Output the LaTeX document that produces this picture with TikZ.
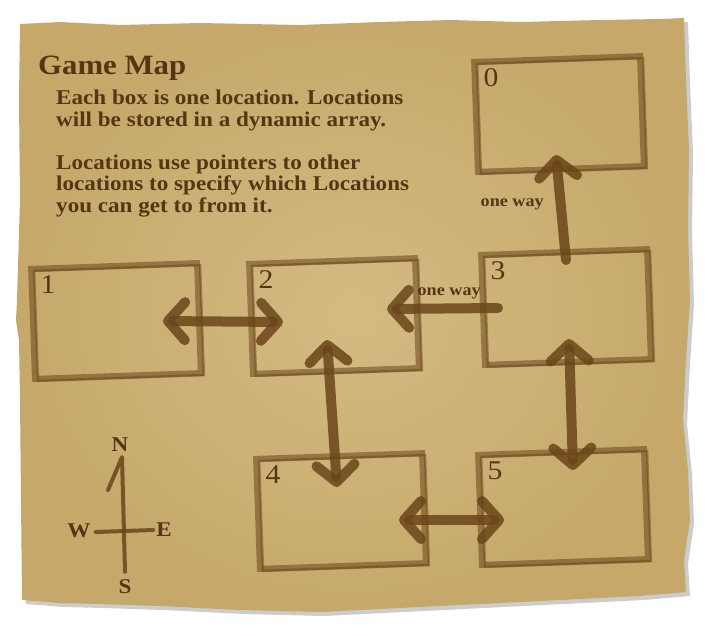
\documentclass[tikz,border=0pt]{standalone}
\usepackage{fontspec}
\setmainfont{Liberation Serif}[FakeStretch=1.1]
\usetikzlibrary{arrows.meta,shadows}

\definecolor{parchlight}{HTML}{D4BB82}
\definecolor{parchdark}{HTML}{C6A86B}
\definecolor{ink}{HTML}{583512}
\definecolor{pen}{HTML}{6A4519}

\begin{document}
\begin{tikzpicture}[
	x=1pt, y=-1pt,
	paper/.style={inner color=parchlight, outer color=parchdark,
		drop shadow={shadow xshift=4pt, shadow yshift=-4pt, opacity=.4}},
	loc/.style={rectangle, minimum width=166pt, minimum height=110pt, rotate=2,
		draw=pen, draw opacity=.55, line width=6pt,
		postaction={draw=pen, draw opacity=.5, line width=2.5pt,
			transform canvas={xshift=3pt, yshift=-2pt}}},
	num/.style={font=\fontsize{27}{27}\selectfont, text=ink, anchor=north west,
		xshift=9pt, yshift=-6pt},
	link/.style={draw=pen, draw opacity=.85, line width=10pt, line cap=round,
		{Straight Barb[length=17pt, width=38pt, round]}-{Straight Barb[length=17pt, width=38pt, round]}},
	oneway/.style={link, -{Straight Barb[length=17pt, width=38pt, round]}},
	tag/.style={font=\bfseries\fontsize{16.5}{17}\selectfont, text=ink, inner sep=1pt},
	needle/.style={draw=pen, draw opacity=.85, line width=4pt, line cap=round, line join=round},
	point/.style={font=\bfseries\fontsize{21}{21}\selectfont, text=ink, inner sep=2pt},
	]
	\useasboundingbox (0,0) rectangle (708,635);
	% the torn sheet
	\path[paper] (20,24) -- (60,22) -- (120,25) -- (200,23) -- (300,25) -- (380,22)
		-- (450,20) -- (520,22) -- (600,20) -- (660,19) -- (684,18) -- (686,80)
		-- (689,150) -- (688,230) -- (690,300) -- (686,360) -- (683,420) -- (688,470)
		-- (690,520) -- (684,560) -- (686,592) -- (640,596) -- (560,600) -- (480,604)
		-- (400,608) -- (320,612) -- (240,610) -- (160,606) -- (100,604) -- (60,603)
		-- (22,600) -- (21,500) -- (20,400) -- (19,340) -- (16,320) -- (17,300)
		-- (20,200) -- (19,100) -- cycle;

	\node[font=\bfseries\fontsize{28}{28}\selectfont, text=ink, anchor=base west,
		inner sep=0pt] (title) at (38,74) {Game Map};
	\node[font=\bfseries\fontsize{21}{21.5}\selectfont, text=ink, anchor=north west,
		align=left, inner sep=0pt] (info) at (56,90)
		{Each box is one location. Locations\\will be stored in a dynamic array.\\[21.5pt]
		Locations use pointers to other\\locations to specify which Locations\\you can get to from it.};

	% locations
	\node[loc, label={[num]north west:0}] (b0) at (559,114) {};
	\node[loc, label={[num]north west:1}] (b1) at (116,321) {};
	\node[loc, label={[num]north west:2}] (b2) at (334,316) {};
	\node[loc, label={[num]north west:3}] (b3) at (566,307) {};
	\node[loc, label={[num]north west:4}] (b4) at (341,511) {};
	\node[loc, label={[num]north west:5}] (b5) at (563,507) {};

	% pointers between locations
	\draw[link] ([xshift=47pt]b1.center) -- ([xshift=-51pt,yshift=-6pt]b2.center);
	\draw[oneway] ([xshift=-68pt,yshift=-1pt]b3.center) --
		node[tag, pos=.44, above=3pt] {one way} ([xshift=53pt,yshift=7pt]b2.center);
	\draw[oneway] ([yshift=47pt]b3.center) --
		node[tag, pos=.53, left=11pt] {one way} ([xshift=-3pt,yshift=-41pt]b0.center);
	\draw[link] ([xshift=-7pt,yshift=-24pt]b2.center) -- ([xshift=-4pt,yshift=24pt]b4.center);
	\draw[link] ([xshift=3pt,yshift=-32pt]b3.center) -- ([xshift=10pt,yshift=37pt]b5.center);
	\draw[link] ([xshift=58pt,yshift=-9pt]b4.center) -- ([xshift=-59pt,yshift=-13pt]b5.center);

	% compass
	\node[point] (cN) at (120,445) {N};
	\node[point] (cS) at (125,587) {S};
	\node[point] (cW) at (79,531) {W};
	\node[point] (cE) at (164,530) {E};
	\draw[needle] ([shift={(-12pt,-36pt)}]cN.south) -- ([shift={(2pt,-3pt)}]cN.south)
		-- ([yshift=6pt]cS.north);
	\draw[needle] ([xshift=3pt,yshift=-1pt]cW.east) -- ([xshift=-1pt]cE.west);
\end{tikzpicture}
\end{document}
